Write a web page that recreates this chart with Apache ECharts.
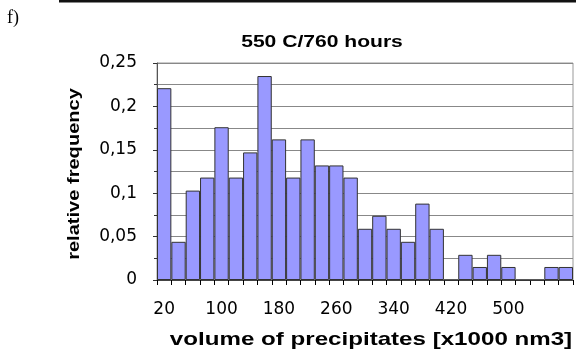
<!DOCTYPE html>
<html>
<head>
<meta charset="utf-8">
<script src="https://cdn.jsdelivr.net/npm/echarts@6/dist/echarts.min.js"></script>
<style>html,body{margin:0;padding:0;background:#fff}#c{width:576px;height:354px}</style>
</head>
<body>
<div id="c"></div>
<script>
const categories = ['20','40','60','80','100','120','140','160','180','200','220','240','260','280','300','320','340','360','380','400','420','440','460','480','500','520','540','560','580'];
const frequencies = [0.221,0.044,0.103,0.118,0.176,0.118,0.147,0.235,0.162,0.118,0.162,0.132,0.132,0.118,0.059,0.074,0.059,0.044,0.088,0.059,0,0.029,0.015,0.029,0.015,0,0,0.015,0.015];
const shownXLabels = ['20','100','180','260','340','420','500'];
const titleText = '550 C/760 hours';
const yName = 'relative frequency';
const xName = 'volume of precipitates [x1000 nm3]';

const boldFont = (px) => 'bold ' + px + 'px "Liberation Sans", Arial, sans-serif';

const chart = echarts.init(document.getElementById('c'), null, {renderer:'canvas'});
chart.setOption({
  animation: false,
  backgroundColor: '#fff',
  graphic: [
    {type: 'rect', shape: {x: 59, y: 0, width: 517, height: 2.5}, style: {fill: '#111'}},
    {type: 'text', x: 7, y: 18, style: {text: 'f)', font: '18px "Liberation Serif", "Times New Roman", serif', fill: '#000', verticalAlign: 'middle'}},
    {type: 'text', x: 322, y: 42, scaleX: 1.24, style: {text: titleText, font: boldFont(17), fill: '#000', align: 'center', verticalAlign: 'middle'}},
    {type: 'text', x: 74, y: 174, rotation: Math.PI / 2, scaleX: 1.18, style: {text: yName, font: boldFont(17), fill: '#000', align: 'center', verticalAlign: 'middle'}},
    {type: 'text', x: 371, y: 340, scaleX: 1.27, style: {text: xName, font: boldFont(19), fill: '#000', align: 'center', verticalAlign: 'middle'}}
  ],
  grid: {left: 157, right: 3, top: 63, bottom: 74, show: true, borderColor: '#999', borderWidth: 1},
  xAxis: {
    type: 'category', data: categories, boundaryGap: true,
    axisLine: {show: true, lineStyle: {color: '#444', width: 1}},
    axisTick: {show: true, interval: 0, length: 5, lineStyle: {color: '#000'}},
    axisLabel: {
      interval: 0, margin: 21,
      formatter: v => shownXLabels.indexOf(v) >= 0 ? v : '',
      fontFamily: 'DejaVu Sans', fontSize: 17, color: '#000'
    },
    splitLine: {show: false}
  },
  yAxis: {
    type: 'value', min: 0, max: 0.25, interval: 0.05,
    axisLine: {show: true, lineStyle: {color: '#555', width: 1}},
    axisTick: {show: true, length: 4, lineStyle: {color: '#333'}},
    minorTick: {show: true, splitNumber: 2, length: 3, lineStyle: {color: '#333'}},
    axisLabel: {
      margin: 20,
      formatter: v => String(+v.toFixed(3)).replace('.', ','),
      fontFamily: 'DejaVu Sans', fontSize: 17, color: '#000'
    },
    splitLine: {show: true, lineStyle: {color: '#888', width: 1}},
    minorSplitLine: {show: true, lineStyle: {color: '#888', width: 1}}
  },
  series: [{
    type: 'bar', data: frequencies, barCategoryGap: '0%',
    itemStyle: {color: '#9999ff', borderColor: '#333', borderWidth: 1}
  }]
});
</script>
</body>
</html>
